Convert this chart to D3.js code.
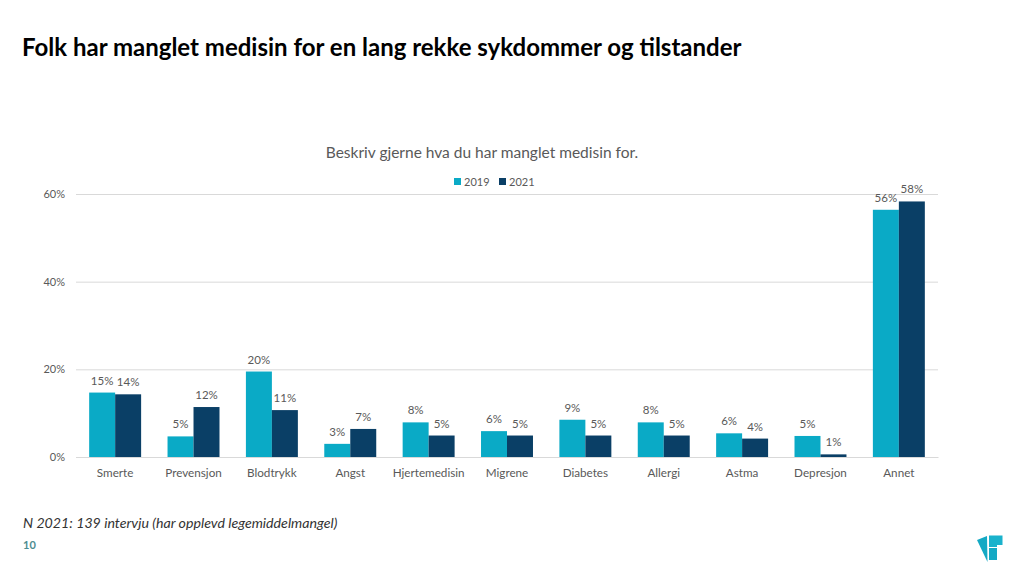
<!DOCTYPE html>
<html><head><meta charset="utf-8">
<script src="https://cdn.jsdelivr.net/npm/d3@7"></script>
<style>
html,body{margin:0;padding:0;background:#fff;}
svg{display:block;font-family:Lato,"Open Sans",sans-serif;}
</style></head>
<body><svg id="c" width="1024" height="576"></svg>
<script>
const categories = ["Smerte","Prevensjon","Blodtrykk","Angst","Hjertemedisin","Migrene","Diabetes","Allergi","Astma","Depresjon","Annet"];
const values2019 = [14.7, 4.7, 19.5, 3.0, 7.9, 5.9, 8.5, 7.9, 5.4, 4.8, 56.4];
const values2021 = [14.3, 11.4, 10.7, 6.4, 4.9, 4.9, 4.9, 4.9, 4.2, 0.6, 58.3];
const seriesNames = ["2019","2021"];
const labels2019 = ["15%","5%","20%","3%","8%","6%","9%","8%","6%","5%","56%"];
const labels2021 = ["14%","12%","11%","7%","5%","5%","5%","5%","4%","1%","58%"];
const yTicks = [0,20,40,60];
const colors = ["#0aaac6","#0a3f66"];

const svg = d3.select("#c");
const pLeft = 76, pRight = 938, pBottom = 457, pTop = 194;

const x = d3.scaleBand().domain(categories).range([pLeft,pRight]).paddingInner(0.337).paddingOuter(0.168);
const xs = d3.scaleBand().domain(seriesNames).range([0,x.bandwidth()]);
const y = d3.scaleLinear().domain([0,60]).range([pBottom,pTop]);

// title
svg.append("text").attr("x",22).attr("y",56).attr("font-size",24).attr("font-weight","bold")
  .attr("fill","#000").text("Folk har manglet medisin for en lang rekke sykdommer og tilstander");

// chart title
svg.append("text").attr("x",482).attr("y",158).attr("text-anchor","middle").attr("font-size",15.5)
  .attr("fill","#595959").text("Beskriv gjerne hva du har manglet medisin for.");

// legend
const leg = svg.append("g").attr("font-size",11).attr("fill","#595959");
[[454,"2019"],[499,"2021"]].forEach((d,i)=>{
  leg.append("rect").attr("x",d[0]).attr("y",178).attr("width",7).attr("height",7).attr("fill",colors[i]);
  leg.append("text").attr("x",d[0]+10).attr("y",185.5).attr("fill","#595959").text(seriesNames[i]);
});

// gridlines + y axis
const yAxis = d3.axisLeft(y).tickValues(yTicks).tickSize(-(pRight-pLeft)).tickFormat(d=>d+"%");
const ga = svg.append("g").attr("transform",`translate(${pLeft},0)`).call(yAxis);
ga.select(".domain").remove();
ga.selectAll(".tick line").attr("stroke","#d9d9d9").attr("stroke-width",1);
ga.selectAll(".tick text").attr("x",-11).attr("fill","#595959").attr("font-size",11).attr("font-family","Lato,sans-serif");

// x axis
const xAxis = d3.axisBottom(x).tickSize(0).tickPadding(12);
const gx = svg.append("g").attr("transform",`translate(0,${pBottom})`).call(xAxis);
gx.select(".domain").attr("stroke","#d9d9d9");
gx.selectAll(".tick text").attr("fill","#595959").attr("font-size",11.7).attr("font-family","Lato,sans-serif");

// bars
const series = [values2019, values2021];
const lbls = [labels2019, labels2021];
series.forEach((vals,si)=>{
  const g = svg.append("g");
  g.selectAll("rect").data(categories).join("rect")
    .attr("x",c=>x(c)+xs(seriesNames[si]))
    .attr("width",xs.bandwidth())
    .attr("y",(c,i)=>y(vals[i]))
    .attr("height",(c,i)=>pBottom-y(vals[i]))
    .attr("fill",colors[si]);
  g.selectAll("text").data(categories).join("text")
    .attr("x",c=>x(c)+xs(seriesNames[si])+xs.bandwidth()/2)
    .attr("y",(c,i)=>y(vals[i])-8)
    .attr("text-anchor","middle").attr("font-size",11.5).attr("fill","#595959")
    .text((c,i)=>lbls[si][i]);
});

// footnote
svg.append("text").attr("x",23).attr("y",528).attr("font-size",14.2).attr("font-style","italic")
  .attr("fill","#333").text("N 2021: 139 intervju (har opplevd legemiddelmangel)");
svg.append("text").attr("x",23).attr("y",549).attr("font-size",11).attr("font-weight","bold")
  .attr("fill","#4e8c91").text("10");

// logo
const lg = svg.append("g");
lg.append("path").attr("d","M977,540 L987,536 L987.5,562 Z").attr("fill","#14a9c4");
lg.append("path").attr("d","M989,535.5 L1002.5,535.5 L1002.5,545 L997,545 L997,547 L989,547 Z").attr("fill","#1ab2cc");
lg.append("path").attr("d","M989,548 L997,548 L997,560 L989,560 Z").attr("fill","#14a9c4");
</script></body></html>
